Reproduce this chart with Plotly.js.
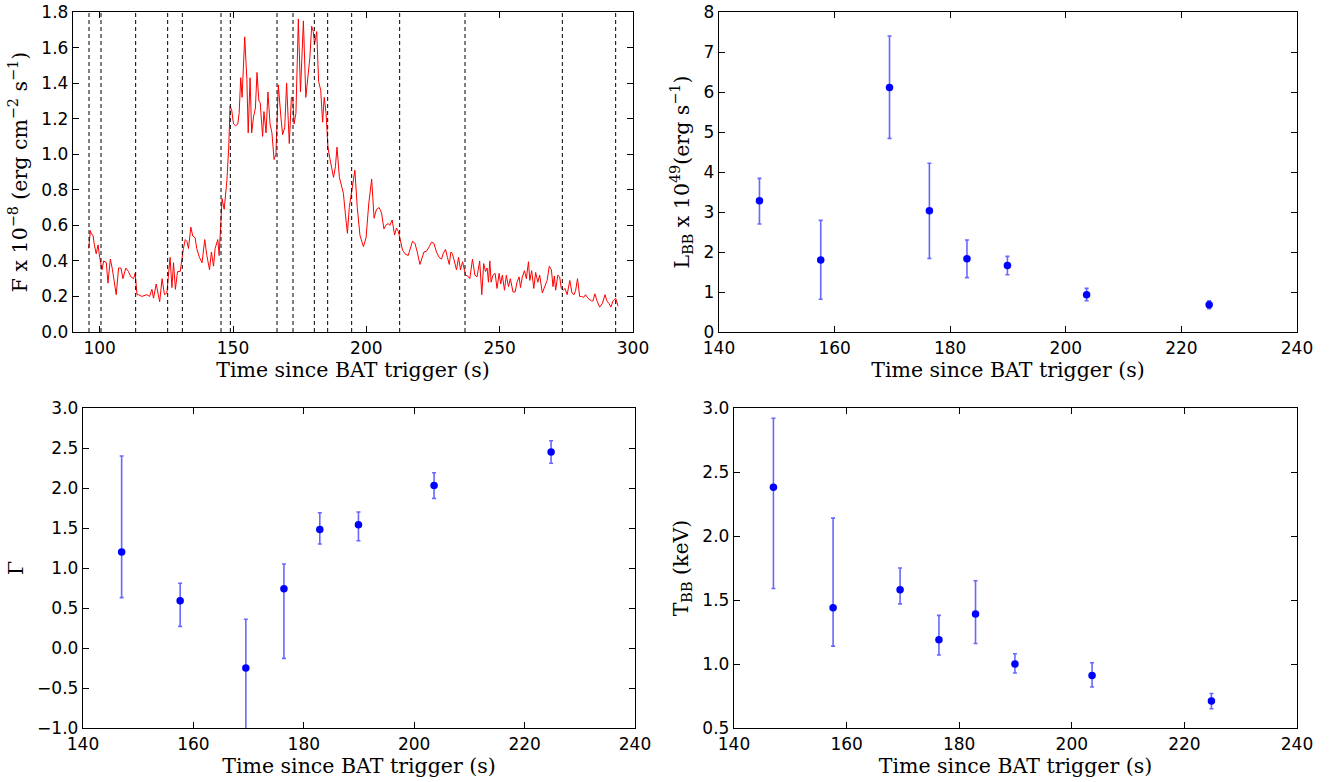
<!DOCTYPE html>
<html>
<head>
<meta charset="utf-8">
<script src="https://cdn.plot.ly/plotly-3.0.1.min.js"></script>
<style>
html,body{margin:0;padding:0;background:#fff;}
#chart{width:1333px;height:782px;}
</style>
</head>
<body>
<div id="chart"></div>
<script>
// ---- Light curve (top-left) ----
const lcTime = [95.9,96.5,96.9,97.5,98.0,98.7,99.4,100.0,100.9,101.5,102.5,103.1,104.0,104.8,106.2,107.1,108.0,108.7,109.8,110.8,111.7,112.7,113.3,114.0,114.6,115.8,117.7,118.7,119.6,120.2,121.2,122.5,123.4,124.3,125.2,125.8,126.4,127.1,127.7,128.4,129.2,130.2,130.8,131.4,132.1,132.7,133.3,134.2,134.9,135.8,136.4,137.4,138.4,139.4,140.2,141.2,141.9,142.7,143.3,144.3,144.8,145.4,145.9,146.7,147.7,148.4,148.9,149.5,150.2,151.0,151.8,152.3,152.9,153.4,154.4,155.2,155.7,156.4,157.0,157.7,158.4,159.0,159.7,160.2,161.1,161.6,162.4,163.1,163.9,164.6,165.4,166.1,167.0,167.9,168.6,169.4,170.1,171.1,171.9,172.4,172.9,173.6,174.5,175.3,176.4,177.3,178.3,178.8,179.5,180.1,180.6,181.4,182.1,182.9,183.6,184.2,184.9,185.6,186.4,187.0,187.7,188.4,189.0,189.9,190.6,191.4,192.1,192.9,193.6,194.5,195.1,195.7,196.6,197.6,198.9,199.9,200.9,202.0,202.9,203.8,204.8,205.7,206.6,207.3,208.2,208.8,209.7,210.6,211.3,212.0,212.6,213.6,214.5,215.7,217.3,218.2,219.1,220.1,221.6,222.6,223.6,224.4,225.3,226.3,227.3,228.2,228.8,229.7,230.4,231.1,231.7,232.3,232.9,233.8,234.6,235.3,236.1,236.7,237.2,238.0,238.8,239.8,240.7,241.5,242.5,243.3,244.0,244.7,245.3,245.8,246.3,246.8,247.5,248.3,249.0,249.8,250.4,251.0,251.8,252.5,253.3,254.0,255.0,255.8,256.5,257.3,257.8,258.5,259.3,260.0,260.8,261.3,262.0,262.8,263.5,264.3,265.0,266.0,267.0,267.8,268.6,269.4,270.0,270.5,271.0,271.8,272.5,273.1,273.8,274.5,275.3,276.3,277.1,277.9,278.5,279.2,280.0,280.7,281.5,282.2,283.1,284.4,285.0,285.7,286.5,287.5,288.5,289.5,290.2,291.0,291.7,292.5,293.5,294.4];
const lcFlux = [0.47,0.57,0.55,0.545,0.49,0.44,0.49,0.42,0.35,0.40,0.39,0.275,0.41,0.35,0.21,0.36,0.36,0.30,0.36,0.34,0.31,0.30,0.33,0.21,0.21,0.20,0.21,0.20,0.24,0.19,0.27,0.17,0.30,0.21,0.22,0.33,0.42,0.25,0.39,0.24,0.34,0.34,0.42,0.47,0.52,0.51,0.47,0.59,0.54,0.53,0.47,0.42,0.39,0.52,0.43,0.35,0.45,0.37,0.47,0.52,0.43,0.59,0.75,0.69,0.85,1.04,1.27,1.25,1.17,1.16,1.17,1.23,1.43,1.32,1.66,1.42,1.12,1.43,1.12,1.21,1.26,1.46,1.30,1.29,1.10,1.24,1.12,1.35,1.17,1.12,0.97,1.00,1.39,1.22,1.11,1.15,1.40,1.06,1.32,1.32,1.17,1.23,1.76,1.35,1.75,1.32,1.49,1.54,1.72,1.69,1.62,1.69,1.41,1.36,1.18,1.32,1.23,1.04,0.97,0.93,0.87,0.93,1.04,0.87,0.83,0.78,0.67,0.555,0.70,0.79,0.84,0.91,0.70,0.545,0.48,0.53,0.72,0.86,0.64,0.69,0.70,0.67,0.58,0.60,0.61,0.60,0.63,0.545,0.585,0.565,0.527,0.46,0.44,0.43,0.51,0.50,0.45,0.38,0.45,0.455,0.48,0.505,0.50,0.45,0.42,0.41,0.44,0.465,0.42,0.38,0.45,0.44,0.405,0.35,0.42,0.35,0.395,0.35,0.32,0.315,0.30,0.41,0.32,0.31,0.40,0.21,0.385,0.34,0.36,0.28,0.40,0.28,0.32,0.33,0.245,0.33,0.27,0.32,0.235,0.32,0.255,0.30,0.225,0.225,0.28,0.31,0.25,0.31,0.345,0.30,0.395,0.29,0.345,0.245,0.335,0.28,0.32,0.22,0.265,0.29,0.37,0.35,0.255,0.315,0.235,0.32,0.31,0.245,0.235,0.245,0.21,0.29,0.22,0.21,0.235,0.30,0.20,0.20,0.195,0.21,0.19,0.175,0.175,0.215,0.175,0.14,0.16,0.21,0.175,0.16,0.14,0.175,0.19,0.145];
// Time-resolved spectral interval boundaries (dashed lines)
const intervalEdges = [96,100.5,113.5,125.5,131,145.5,149,166.5,172.5,180.5,185.5,194.5,212.5,237,273.5,293.5];

// ---- Spectral fit results ----
const specTime = [147.0,157.6,169.5,176.4,182.9,189.9,203.6,224.8];
const lbb      = [3.28,1.80,6.11,3.03,1.83,1.66,0.93,0.68];
const lbbUp    = [3.84,2.79,7.40,4.22,2.30,1.89,1.09,0.78];
const lbbLo    = [2.70,0.82,4.84,1.84,1.36,1.43,0.78,0.58];
const gamma    = [1.20,0.59,-0.25,0.74,1.48,1.54,2.03,2.45];
const gammaUp  = [2.40,0.81,0.36,1.05,1.69,1.70,2.19,2.59];
const gammaLo  = [0.63,0.27,-1.30,-0.13,1.30,1.34,1.87,2.31];
const tbb      = [2.38,1.44,1.58,1.19,1.39,1.00,0.91,0.71];
const tbbUp    = [2.92,2.14,1.75,1.38,1.65,1.08,1.01,0.77];
const tbbLo    = [1.59,1.14,1.47,1.07,1.16,0.93,0.82,0.65];

const W = 1333, H = 782;
const blue = '#0000ff';
const errColor = 'rgba(40,40,255,0.7)';

function errTrace(y, up, lo, xa, ya) {
  return {
    x: specTime, y: y, type: 'scatter', mode: 'markers',
    xaxis: xa, yaxis: ya,
    marker: {color: blue, size: 7.5, line: {width: 0}},
    error_y: {
      type: 'data', symmetric: false,
      array: up.map((u, i) => u - y[i]),
      arrayminus: lo.map((l, i) => y[i] - l),
      color: errColor, thickness: 1.6, width: 2
    },
    showlegend: false, hoverinfo: 'x+y'
  };
}

const traces = [
  {x: lcTime, y: lcFlux, type: 'scatter', mode: 'lines', xaxis: 'x', yaxis: 'y',
   line: {color: '#ff0000', width: 1}, showlegend: false},
  errTrace(lbb, lbbUp, lbbLo, 'x2', 'y2'),
  errTrace(gamma, gammaUp, gammaLo, 'x3', 'y3'),
  errTrace(tbb, tbbUp, tbbLo, 'x4', 'y4')
];

const tickFont = {family: 'DejaVu Sans, sans-serif', size: 17, color: '#000'};
const titleFont = {family: 'DejaVu Serif, serif', size: 20.5, color: '#000'};

function ax(extra) {
  return Object.assign({
    showline: true, linecolor: '#000', linewidth: 1.2, mirror: 'ticks',
    ticks: 'inside', ticklen: 6, tickcolor: '#000', tickwidth: 1,
    showgrid: false, zeroline: false, tickfont: tickFont, automargin: false,
    fixedrange: true
  }, extra);
}
function dx(a, b) { return [a / W, b / W]; }
function dy(top, bottom) { return [1 - bottom / H, 1 - top / H]; }

const xTitle = {text: 'Time since BAT trigger (s)', font: titleFont, standoff: 5};

const shapes = intervalEdges.map(t => ({
  type: 'line', xref: 'x', yref: 'y domain', x0: t, x1: t, y0: 0, y1: 1,
  line: {color: '#000', width: 1, dash: '4px,3px'}
}));

const layout = {
  width: W, height: H,
  margin: {l: 0, r: 0, t: 0, b: 0},
  paper_bgcolor: '#fff', plot_bgcolor: '#fff',
  showlegend: false,
  shapes: shapes,
  xaxis: ax({domain: dx(73, 633), range: [90, 300], dtick: 50, tick0: 0, anchor: 'y', title: xTitle}),
  yaxis: ax({domain: dy(12, 332), range: [0, 1.8], dtick: 0.2, tick0: 0, tickformat: '.1f', anchor: 'x',
    title: {text: 'F x 10<sup>−8</sup> (erg cm<sup>−2</sup> s<sup>−1</sup>)', font: titleFont, standoff: 8}}),
  xaxis2: ax({domain: dx(719, 1297), range: [140, 240], dtick: 20, tick0: 0, anchor: 'y2', title: xTitle}),
  yaxis2: ax({domain: dy(12, 332), range: [0, 8], dtick: 1, tick0: 0, anchor: 'x2',
    title: {text: 'L<sub>BB</sub> x 10<sup>49</sup>(erg s<sup>−1</sup>)', font: titleFont, standoff: 8}}),
  xaxis3: ax({domain: dx(83, 635), range: [140, 240], dtick: 20, tick0: 0, anchor: 'y3', title: xTitle}),
  yaxis3: ax({domain: dy(408, 728), range: [-1, 3], dtick: 0.5, tick0: 0, tickformat: '.1f', anchor: 'x3',
    title: {text: 'Γ', font: titleFont, standoff: 8}}),
  xaxis4: ax({domain: dx(734, 1297), range: [140, 240], dtick: 20, tick0: 0, anchor: 'y4', title: xTitle}),
  yaxis4: ax({domain: dy(408, 728), range: [0.5, 3.0], dtick: 0.5, tick0: 0, tickformat: '.1f', anchor: 'x4',
    title: {text: 'T<sub>BB</sub> (keV)', font: titleFont, standoff: 8}})
};

Plotly.newPlot('chart', traces, layout, {staticPlot: true, displayModeBar: false});
</script>
</body>
</html>
